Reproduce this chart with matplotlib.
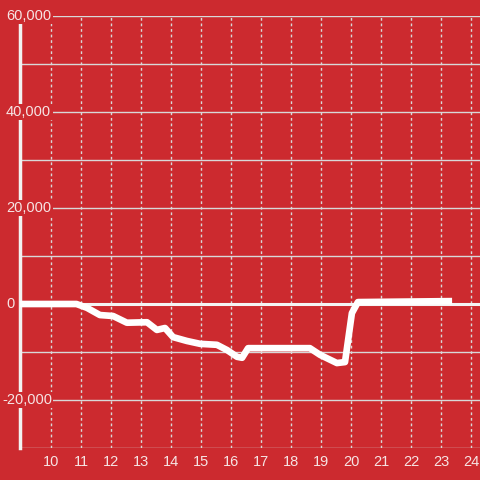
import matplotlib
matplotlib.use("Agg")
import matplotlib.pyplot as plt
import matplotlib.transforms as mtransforms

hours = [8.97, 10.85, 11.2, 11.63, 12.07, 12.53, 13.2, 13.53, 13.8, 14.07, 14.53,
         14.97, 15.53, 15.87, 16.2, 16.37, 16.57, 18.63, 18.97, 19.53, 19.8,
         20.03, 20.23, 23.37]
values = [0, 0, -800, -2300, -2500, -3900, -3800, -5400, -5000, -6900, -7700,
          -8300, -8500, -9600, -11000, -11200, -9200, -9200, -10600, -12300, -12100,
          -1900, 400, 600]
x_ticks = list(range(10, 25))
y_ticks = [-20000, 0, 20000, 40000, 60000]
y_labels = ["-20,000", "0", "20,000", "40,000", "60,000"]

BG = "#cc2a2f"
TXT = "#f6e4e4"
GRID = "#d8d8d8"

plt.rcParams["font.family"] = ["Liberation Sans", "DejaVu Sans"]

fig = plt.figure(figsize=(4.8, 4.8), dpi=100)
fig.patch.set_facecolor(BG)
ax = fig.add_axes([20/480, 32/480, 460/480, 432/480])
ax.set_facecolor(BG)
ax.set_xlim(8.967, 24.3)
ax.set_ylim(-30000, 60000)

for s in ["top", "right", "bottom"]:
    ax.spines[s].set_visible(False)
ax.spines["left"].set_color("#f2f2f2")
ax.spines["left"].set_linewidth(2.5)

for yv in range(-30000, 60001, 10000):
    ax.axhline(yv, color=GRID, lw=1, zorder=1)
for xv in x_ticks:
    ax.axvline(xv, color=GRID, lw=1, ls=(0, (2, 2)), zorder=1)
ax.axhline(0, color="#f4f4f4", lw=2.2, zorder=2)

ax.plot(hours, values, color="white", lw=4.8, solid_joinstyle="round",
        solid_capstyle="butt", zorder=4, clip_on=False)

ax.set_xticks(x_ticks)
ax.set_xticklabels([str(x) for x in x_ticks])
ax.tick_params(axis="x", length=0, pad=5, labelsize=10.5, labelcolor=TXT)
ax.set_yticks([])

trans = mtransforms.blended_transform_factory(fig.transFigure, ax.transData)
for yv, lab in zip(y_ticks, y_labels):
    x0 = 2 if lab.startswith("-") else 6
    ax.text(x0/480, yv, lab, transform=trans, ha="left", va="center",
            fontsize=10.5, color=TXT, zorder=6, clip_on=False,
            bbox=dict(facecolor=BG, edgecolor="none", pad=1.0))

fig.savefig("out.png", dpi=100, facecolor=BG)
